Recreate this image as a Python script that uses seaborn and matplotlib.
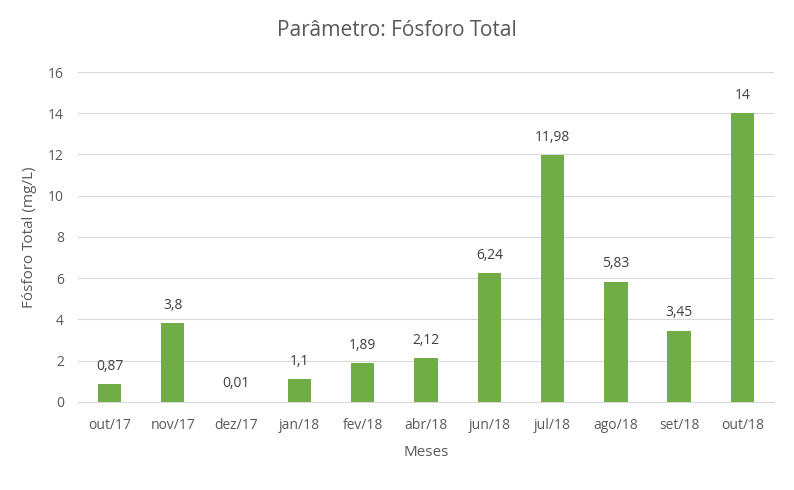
import matplotlib
matplotlib.use("Agg")
import matplotlib.pyplot as plt
import seaborn as sns
import pandas as pd

meses = ["out/17","nov/17","dez/17","jan/18","fev/18","abr/18","jun/18","jul/18","ago/18","set/18","out/18"]
valores = [0.87,3.8,0.01,1.1,1.89,2.12,6.24,11.98,5.83,3.45,14]
rotulos = ["0,87","3,8","0,01","1,1","1,89","2,12","6,24","11,98","5,83","3,45","14"]

df = pd.DataFrame({"Meses": meses, "v": valores})
plt.rcParams["font.family"] = "Open Sans"
fig = plt.figure(figsize=(7.94,4.90), dpi=100)
ax = fig.add_axes([0.098, 0.18, 0.877, 0.673])
sns.barplot(data=df, x="Meses", y="v", color="#70AD47", width=0.37, saturation=1, ax=ax, zorder=3)
for i, (v, t) in enumerate(zip(valores, rotulos)):
    ax.text(i, v + 0.5, t, ha="center", va="bottom", fontsize=10, color="#404040")
ax.set_ylim(0, 16)
ax.set_yticks(range(0, 17, 2))
ax.grid(axis="y", color="#D9D9D9", lw=0.8, zorder=0)
for s in ["top","right","left"]:
    ax.spines[s].set_visible(False)
ax.spines["bottom"].set_color("#D9D9D9")
ax.tick_params(length=0, colors="#595959", labelsize=10)
ax.tick_params(axis="x", pad=12)
ax.tick_params(axis="y", pad=10)
ax.set_xlabel("Meses", fontsize=11, color="#595959", labelpad=8)
ax.set_ylabel("Fósforo Total (mg/L)", fontsize=11, color="#595959", labelpad=8)
fig.suptitle("Parâmetro: Fósforo Total", y=0.96, fontsize=15, color="#595959")
fig.savefig("out.png", dpi=100)
